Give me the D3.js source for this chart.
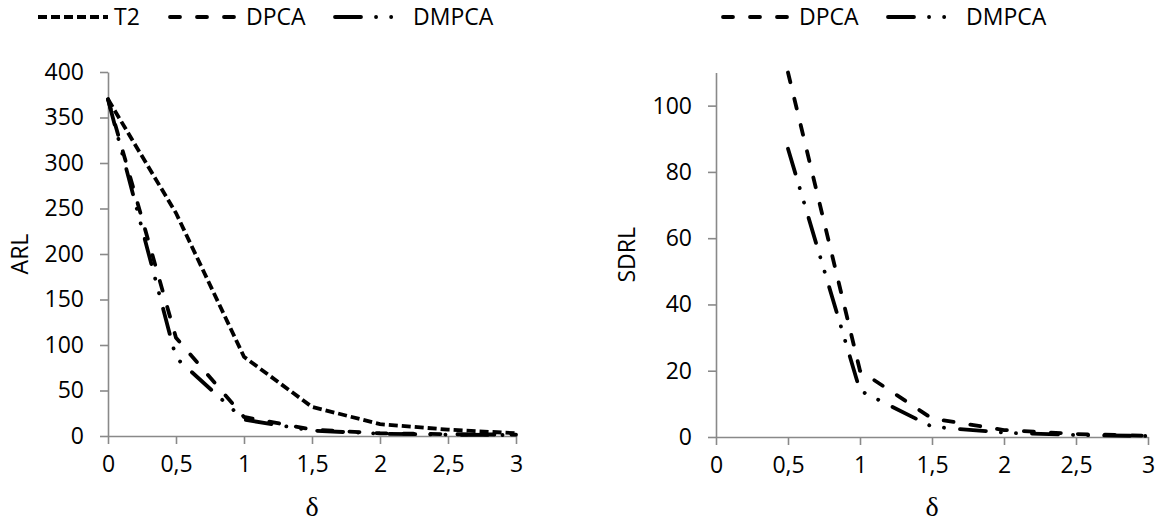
<!DOCTYPE html>
<html>
<head>
<meta charset="utf-8">
<script src="https://cdn.jsdelivr.net/npm/d3@7"></script>
<style>
  body { margin: 0; background: #fff; }
  text { font-family: "Open Sans", "Noto Sans", sans-serif; fill: #000; }
</style>
</head>
<body>
<div class="grafico"></div>
<script>
// valori
var delta = [0, 0.5, 1, 1.5, 2, 2.5, 3];
var etichetteX = ["0", "0,5", "1", "1,5", "2", "2,5", "3"];

var arlT2 = [370, 245, 87, 32, 13, 7, 3];
var arlDPCA = [370, 108, 21, 7, 3, 2, 1.5];
var arlDMPCA = [370, 86, 18, 6, 2.5, 1.5, 1];

var sdrlDPCA = [null, 110, 20, 5.6, 2.1, 0.9, 0.4];
var sdrlDMPCA = [null, 87, 14, 3.1, 1.3, 0.6, 0.3];

var tickARL = [0, 50, 100, 150, 200, 250, 300, 350, 400];
var tickSDRL = [0, 20, 40, 60, 80, 100];

// stili delle linee (tratteggi tipo Excel)
var stili = {
  T2: { dash: "9,4", cap: "butt" },
  DPCA: { dash: "10,17", cap: "round" },
  DMPCA: { dash: "26,15,0.1,15,0.1,16", cap: "round" }
};

var w = 1165,
    h = 525;
var fonte = "23px";

var svg = d3.select(".grafico")
  .append("svg")
  .attr("width", w)
  .attr("height", h);

function disegnaPannello(p) {
  var x = d3.scaleLinear().domain([0, 3]).range([p.x0, p.x1]);
  var y = d3.scaleLinear().domain([0, p.max]).range([p.y0, p.y1]);
  var g = svg.append("g");

  // asse y
  var assey = g.append("g")
    .attr("transform", "translate(" + p.x0 + ",0)")
    .call(d3.axisLeft(y).tickValues(p.ticks).tickSize(8).tickPadding(16).tickSizeOuter(0));
  assey.selectAll("text").style("font-size", fonte);

  // asse x
  var assex = g.append("g")
    .attr("transform", "translate(0," + p.y0 + ")")
    .call(d3.axisBottom(x).tickValues(delta).tickSize(8).tickPadding(12).tickSizeOuter(0)
      .tickFormat(function (d, i) { return etichetteX[i]; }));
  assex.selectAll("text").style("font-size", fonte);

  g.selectAll(".domain, .tick line").attr("stroke", "#898989").attr("stroke-width", 1.6);

  // linee delle serie
  p.serie.forEach(function (s) {
    var linea = d3.line()
      .defined(function (d) { return d != null; })
      .x(function (d, i) { return x(delta[i]); })
      .y(function (d) { return y(d); });
    g.append("path")
      .datum(s.valori)
      .attr("d", linea)
      .attr("fill", "none")
      .attr("stroke", "#000")
      .attr("stroke-width", 3.8)
      .attr("stroke-linecap", stili[s.nome].cap)
      .attr("stroke-dasharray", stili[s.nome].dash);
  });

  // titoli assi
  g.append("text")
    .attr("transform", "translate(" + p.titoloY + "," + ((p.y0 + p.y1) / 2) + ") rotate(-90)")
    .attr("text-anchor", "middle")
    .attr("dy", "0.35em")
    .style("font-size", fonte)
    .text(p.etichettaY);

  g.append("text")
    .attr("x", (p.x0 + p.x1) / 2)
    .attr("y", 516)
    .attr("text-anchor", "middle")
    .style("font-family", "'Liberation Serif', 'DejaVu Serif', serif")
    .style("font-size", "28px")
    .text("δ");

  // legenda
  p.serie.forEach(function (s, i) {
    var lx = p.legenda[i];
    var len = s.nome == "DMPCA" ? 66 : 70;
    g.append("line")
      .attr("x1", lx).attr("x2", lx + len)
      .attr("y1", 17).attr("y2", 17)
      .attr("stroke", "#000")
      .attr("stroke-width", 3.8)
      .attr("stroke-linecap", stili[s.nome].cap)
      .attr("stroke-dasharray", stili[s.nome].dash);
    g.append("text")
      .attr("x", lx + len + (s.nome == "DMPCA" ? 12 : 6))
      .attr("y", 17)
      .attr("dy", "0.35em")
      .style("font-size", fonte)
      .text(s.nome);
  });
}

disegnaPannello({
  x0: 108, x1: 516, y0: 436, y1: 72, max: 400, ticks: tickARL,
  etichettaY: "ARL", titoloY: 20, legenda: [38, 170, 335],
  serie: [
    { nome: "T2", valori: arlT2 },
    { nome: "DPCA", valori: arlDPCA },
    { nome: "DMPCA", valori: arlDMPCA }
  ]
});

disegnaPannello({
  x0: 716, x1: 1148, y0: 437, y1: 72.5, max: 110, ticks: tickSDRL,
  etichettaY: "SDRL", titoloY: 627, legenda: [723, 888],
  serie: [
    { nome: "DPCA", valori: sdrlDPCA },
    { nome: "DMPCA", valori: sdrlDMPCA }
  ]
});
</script>
</body>
</html>
